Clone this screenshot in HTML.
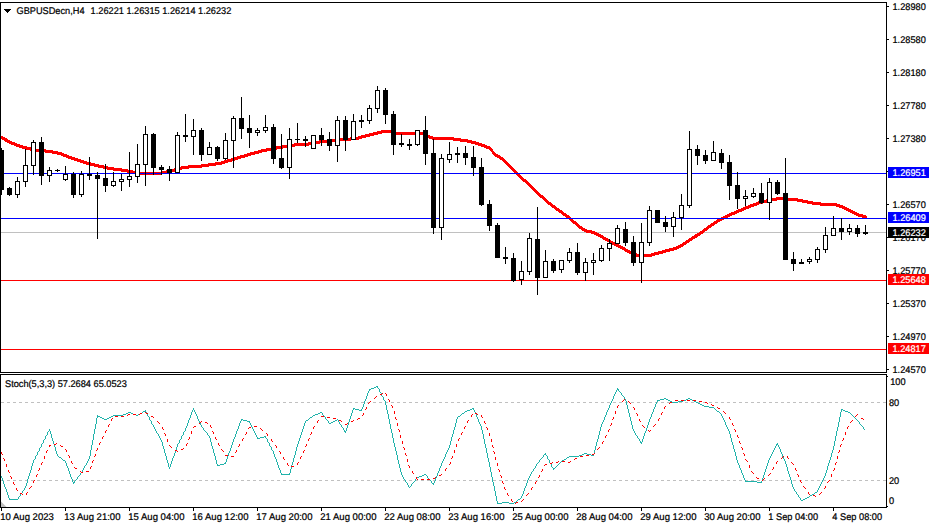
<!DOCTYPE html>
<html><head><meta charset="utf-8"><title>GBPUSDecn,H4</title>
<style>text{stroke:#000;stroke-width:.22px}text.w{fill:#fff;stroke:#fff}html,body{margin:0;padding:0;background:#fff;width:932px;height:526px;overflow:hidden}</style></head>
<body>
<svg width="932" height="526" viewBox="0 0 932 526" style="position:absolute;left:0;top:0;font-family:'Liberation Sans',sans-serif;font-size:9.7px;text-rendering:geometricPrecision">
<rect x="0" y="0" width="932" height="526" fill="#fff"/>
<rect x="1" y="232" width="885" height="1" fill="#c0c0c0"/>
<path d="M1 136v3h1v-3zM2 136v4h1v-4zM3 137v3h1v-3zM4 137v4h1v-4zM5 138v4h1v-4zM6 138v4h1v-4zM7 139v4h1v-4zM8 140v3h1v-3zM9 140v4h1v-4zM10 141v3h1v-3zM11 141v4h1v-4zM12 142v3h1v-3zM13 142v3h1v-3zM14 142v4h1v-4zM15 143v3h1v-3zM16 143v4h1v-4zM17 144v3h1v-3zM18 144v3h1v-3zM19 144v4h1v-4zM20 145v3h1v-3zM21 145v3h1v-3zM22 145v4h1v-4zM23 146v3h1v-3zM24 146v3h1v-3zM25 146v3h1v-3zM26 146v4h1v-4zM27 147v3h1v-3zM28 147v3h1v-3zM29 147v3h1v-3zM30 147v4h1v-4zM31 148v3h1v-3zM32 148v3h1v-3zM33 148v3h1v-3zM34 148v4h1v-4zM35 149v3h1v-3zM36 149v3h1v-3zM37 149v3h1v-3zM38 149v3h1v-3zM39 149v3h1v-3zM40 149v3h1v-3zM41 149v3h1v-3zM42 149v3h1v-3zM43 149v3h1v-3zM44 149v3h1v-3zM45 149v4h1v-4zM46 150v3h1v-3zM47 150v3h1v-3zM48 150v3h1v-3zM49 150v3h1v-3zM50 150v3h1v-3zM51 150v3h1v-3zM52 150v4h1v-4zM53 151v3h1v-3zM54 151v3h1v-3zM55 151v3h1v-3zM56 151v3h1v-3zM57 151v4h1v-4zM58 152v3h1v-3zM59 152v3h1v-3zM60 152v3h1v-3zM61 152v4h1v-4zM62 153v3h1v-3zM63 153v4h1v-4zM64 154v3h1v-3zM65 154v3h1v-3zM66 154v4h1v-4zM67 155v3h1v-3zM68 155v4h1v-4zM69 156v3h1v-3zM70 156v3h1v-3zM71 156v4h1v-4zM72 157v3h1v-3zM73 157v3h1v-3zM74 157v4h1v-4zM75 158v3h1v-3zM76 158v3h1v-3zM77 158v4h1v-4zM78 159v3h1v-3zM79 159v3h1v-3zM80 159v4h1v-4zM81 160v3h1v-3zM82 160v3h1v-3zM83 160v4h1v-4zM84 161v3h1v-3zM85 161v3h1v-3zM86 161v4h1v-4zM87 162v3h1v-3zM88 162v3h1v-3zM89 162v3h1v-3zM90 162v4h1v-4zM91 163v3h1v-3zM92 163v3h1v-3zM93 163v3h1v-3zM94 163v4h1v-4zM95 164v3h1v-3zM96 164v3h1v-3zM97 164v3h1v-3zM98 164v4h1v-4zM99 165v3h1v-3zM100 165v3h1v-3zM101 165v3h1v-3zM102 165v3h1v-3zM103 165v4h1v-4zM104 166v3h1v-3zM105 166v3h1v-3zM106 166v3h1v-3zM107 166v4h1v-4zM108 167v3h1v-3zM109 167v3h1v-3zM110 167v3h1v-3zM111 167v3h1v-3zM112 167v3h1v-3zM113 167v4h1v-4zM114 168v3h1v-3zM115 168v3h1v-3zM116 168v3h1v-3zM117 168v3h1v-3zM118 168v3h1v-3zM119 168v3h1v-3zM120 168v3h1v-3zM121 168v4h1v-4zM122 169v3h1v-3zM123 169v3h1v-3zM124 169v3h1v-3zM125 169v3h1v-3zM126 169v3h1v-3zM127 169v4h1v-4zM128 170v3h1v-3zM129 170v3h1v-3zM130 170v3h1v-3zM131 170v3h1v-3zM132 170v4h1v-4zM133 171v3h1v-3zM134 171v3h1v-3zM135 171v3h1v-3zM136 171v3h1v-3zM137 171v3h1v-3zM138 171v4h1v-4zM139 172v3h1v-3zM140 172v3h1v-3zM141 172v3h1v-3zM142 172v3h1v-3zM143 172v3h1v-3zM144 172v3h1v-3zM145 172v3h1v-3zM146 172v3h1v-3zM147 172v3h1v-3zM148 172v3h1v-3zM149 172v3h1v-3zM150 172v3h1v-3zM151 172v3h1v-3zM152 172v3h1v-3zM153 172v3h1v-3zM154 172v3h1v-3zM155 172v3h1v-3zM156 172v3h1v-3zM157 172v3h1v-3zM158 172v3h1v-3zM159 172v3h1v-3zM160 172v3h1v-3zM161 171v4h1v-4zM162 171v3h1v-3zM163 171v3h1v-3zM164 171v3h1v-3zM165 171v3h1v-3zM166 170v4h1v-4zM167 170v3h1v-3zM168 170v3h1v-3zM169 170v3h1v-3zM170 170v3h1v-3zM171 169v4h1v-4zM172 169v3h1v-3zM173 169v3h1v-3zM174 168v4h1v-4zM175 168v3h1v-3zM176 168v3h1v-3zM177 167v4h1v-4zM178 167v3h1v-3zM179 167v3h1v-3zM180 167v3h1v-3zM181 166v4h1v-4zM182 166v3h1v-3zM183 166v3h1v-3zM184 166v3h1v-3zM185 166v3h1v-3zM186 166v3h1v-3zM187 166v3h1v-3zM188 165v4h1v-4zM189 165v3h1v-3zM190 165v3h1v-3zM191 165v3h1v-3zM192 165v3h1v-3zM193 165v3h1v-3zM194 165v3h1v-3zM195 165v3h1v-3zM196 165v3h1v-3zM197 165v3h1v-3zM198 165v3h1v-3zM199 165v3h1v-3zM200 165v3h1v-3zM201 164v4h1v-4zM202 164v3h1v-3zM203 164v3h1v-3zM204 164v3h1v-3zM205 164v3h1v-3zM206 164v3h1v-3zM207 164v3h1v-3zM208 163v4h1v-4zM209 163v3h1v-3zM210 163v3h1v-3zM211 163v3h1v-3zM212 163v3h1v-3zM213 163v3h1v-3zM214 163v3h1v-3zM215 162v4h1v-4zM216 162v3h1v-3zM217 162v3h1v-3zM218 162v3h1v-3zM219 162v3h1v-3zM220 162v3h1v-3zM221 161v4h1v-4zM222 161v3h1v-3zM223 161v3h1v-3zM224 160v4h1v-4zM225 160v3h1v-3zM226 160v3h1v-3zM227 159v4h1v-4zM228 159v3h1v-3zM229 159v3h1v-3zM230 159v3h1v-3zM231 158v4h1v-4zM232 158v3h1v-3zM233 158v3h1v-3zM234 157v4h1v-4zM235 157v3h1v-3zM236 157v3h1v-3zM237 156v4h1v-4zM238 156v3h1v-3zM239 156v3h1v-3zM240 155v4h1v-4zM241 155v3h1v-3zM242 155v3h1v-3zM243 155v3h1v-3zM244 154v4h1v-4zM245 154v3h1v-3zM246 154v3h1v-3zM247 153v4h1v-4zM248 153v3h1v-3zM249 153v3h1v-3zM250 152v4h1v-4zM251 152v3h1v-3zM252 152v3h1v-3zM253 152v3h1v-3zM254 151v4h1v-4zM255 151v3h1v-3zM256 151v3h1v-3zM257 151v3h1v-3zM258 150v4h1v-4zM259 150v3h1v-3zM260 150v3h1v-3zM261 149v4h1v-4zM262 149v3h1v-3zM263 149v3h1v-3zM264 149v3h1v-3zM265 149v3h1v-3zM266 148v4h1v-4zM267 148v3h1v-3zM268 148v3h1v-3zM269 148v3h1v-3zM270 148v3h1v-3zM271 147v4h1v-4zM272 147v3h1v-3zM273 147v3h1v-3zM274 147v3h1v-3zM275 147v3h1v-3zM276 146v4h1v-4zM277 146v3h1v-3zM278 146v3h1v-3zM279 146v3h1v-3zM280 146v3h1v-3zM281 146v3h1v-3zM282 145v4h1v-4zM283 145v3h1v-3zM284 145v3h1v-3zM285 145v3h1v-3zM286 145v3h1v-3zM287 145v3h1v-3zM288 144v4h1v-4zM289 144v3h1v-3zM290 144v3h1v-3zM291 144v3h1v-3zM292 144v3h1v-3zM293 144v3h1v-3zM294 143v4h1v-4zM295 143v3h1v-3zM296 143v3h1v-3zM297 143v3h1v-3zM298 143v3h1v-3zM299 143v3h1v-3zM300 143v3h1v-3zM301 143v3h1v-3zM302 143v3h1v-3zM303 143v3h1v-3zM304 143v3h1v-3zM305 143v3h1v-3zM306 143v3h1v-3zM307 143v3h1v-3zM308 142v4h1v-4zM309 142v3h1v-3zM310 142v3h1v-3zM311 142v3h1v-3zM312 142v3h1v-3zM313 142v3h1v-3zM314 142v3h1v-3zM315 141v4h1v-4zM316 141v3h1v-3zM317 141v3h1v-3zM318 141v3h1v-3zM319 140v4h1v-4zM320 140v3h1v-3zM321 140v3h1v-3zM322 140v3h1v-3zM323 140v3h1v-3zM324 140v3h1v-3zM325 140v3h1v-3zM326 140v3h1v-3zM327 139v4h1v-4zM328 139v3h1v-3zM329 139v3h1v-3zM330 139v3h1v-3zM331 139v3h1v-3zM332 139v3h1v-3zM333 139v3h1v-3zM334 139v3h1v-3zM335 139v3h1v-3zM336 138v4h1v-4zM337 138v3h1v-3zM338 138v3h1v-3zM339 138v3h1v-3zM340 138v3h1v-3zM341 138v3h1v-3zM342 138v3h1v-3zM343 138v3h1v-3zM344 138v3h1v-3zM345 138v3h1v-3zM346 138v3h1v-3zM347 138v3h1v-3zM348 138v3h1v-3zM349 138v3h1v-3zM350 137v4h1v-4zM351 137v3h1v-3zM352 137v3h1v-3zM353 137v3h1v-3zM354 137v3h1v-3zM355 137v3h1v-3zM356 137v3h1v-3zM357 137v3h1v-3zM358 136v4h1v-4zM359 136v3h1v-3zM360 136v3h1v-3zM361 135v4h1v-4zM362 135v3h1v-3zM363 135v3h1v-3zM364 135v3h1v-3zM365 134v4h1v-4zM366 134v3h1v-3zM367 134v3h1v-3zM368 134v3h1v-3zM369 133v4h1v-4zM370 133v3h1v-3zM371 133v3h1v-3zM372 133v3h1v-3zM373 132v4h1v-4zM374 132v3h1v-3zM375 132v3h1v-3zM376 132v3h1v-3zM377 131v4h1v-4zM378 131v3h1v-3zM379 131v3h1v-3zM380 131v3h1v-3zM381 130v4h1v-4zM382 130v3h1v-3zM383 130v3h1v-3zM384 130v3h1v-3zM385 130v3h1v-3zM386 130v3h1v-3zM387 130v3h1v-3zM388 130v3h1v-3zM389 130v3h1v-3zM390 130v3h1v-3zM391 130v4h1v-4zM392 131v3h1v-3zM393 131v3h1v-3zM394 131v3h1v-3zM395 131v4h1v-4zM396 132v3h1v-3zM397 132v3h1v-3zM398 132v3h1v-3zM399 132v3h1v-3zM400 132v3h1v-3zM401 132v3h1v-3zM402 132v3h1v-3zM403 132v3h1v-3zM404 132v3h1v-3zM405 132v3h1v-3zM406 132v3h1v-3zM407 132v3h1v-3zM408 132v3h1v-3zM409 132v3h1v-3zM410 132v3h1v-3zM411 132v3h1v-3zM412 132v3h1v-3zM413 132v3h1v-3zM414 132v3h1v-3zM415 132v3h1v-3zM416 132v3h1v-3zM417 132v3h1v-3zM418 132v3h1v-3zM419 132v3h1v-3zM420 132v3h1v-3zM421 132v3h1v-3zM422 132v3h1v-3zM423 132v4h1v-4zM424 133v3h1v-3zM425 133v4h1v-4zM426 134v3h1v-3zM427 134v4h1v-4zM428 135v3h1v-3zM429 135v4h1v-4zM430 136v3h1v-3zM431 136v3h1v-3zM432 136v4h1v-4zM433 137v3h1v-3zM434 137v3h1v-3zM435 137v3h1v-3zM436 137v3h1v-3zM437 137v3h1v-3zM438 137v3h1v-3zM439 137v3h1v-3zM440 137v3h1v-3zM441 137v3h1v-3zM442 137v3h1v-3zM443 137v3h1v-3zM444 137v3h1v-3zM445 137v3h1v-3zM446 137v3h1v-3zM447 137v3h1v-3zM448 137v3h1v-3zM449 137v3h1v-3zM450 137v3h1v-3zM451 137v3h1v-3zM452 137v3h1v-3zM453 137v4h1v-4zM454 138v3h1v-3zM455 138v3h1v-3zM456 138v3h1v-3zM457 138v3h1v-3zM458 138v3h1v-3zM459 138v3h1v-3zM460 138v4h1v-4zM461 139v3h1v-3zM462 139v3h1v-3zM463 139v3h1v-3zM464 139v3h1v-3zM465 139v3h1v-3zM466 139v3h1v-3zM467 139v4h1v-4zM468 140v3h1v-3zM469 140v3h1v-3zM470 140v3h1v-3zM471 140v4h1v-4zM472 141v3h1v-3zM473 141v3h1v-3zM474 141v3h1v-3zM475 141v4h1v-4zM476 142v3h1v-3zM477 142v3h1v-3zM478 142v4h1v-4zM479 143v3h1v-3zM480 143v3h1v-3zM481 143v4h1v-4zM482 144v3h1v-3zM483 144v3h1v-3zM484 144v4h1v-4zM485 145v3h1v-3zM486 145v4h1v-4zM487 146v3h1v-3zM488 146v3h1v-3zM489 146v4h1v-4zM490 147v4h1v-4zM491 148v4h1v-4zM492 149v5h1v-5zM493 151v4h1v-4zM494 152v4h1v-4zM495 153v4h1v-4zM496 154v3h1v-3zM497 154v4h1v-4zM498 155v3h1v-3zM499 155v4h1v-4zM500 156v4h1v-4zM501 157v3h1v-3zM502 157v4h1v-4zM503 158v4h1v-4zM504 159v4h1v-4zM505 160v4h1v-4zM506 161v4h1v-4zM507 162v4h1v-4zM508 163v4h1v-4zM509 164v4h1v-4zM510 165v4h1v-4zM511 166v4h1v-4zM512 167v4h1v-4zM513 168v4h1v-4zM514 169v4h1v-4zM515 170v4h1v-4zM516 171v4h1v-4zM517 172v4h1v-4zM518 173v4h1v-4zM519 174v4h1v-4zM520 175v4h1v-4zM521 176v4h1v-4zM522 177v4h1v-4zM523 178v4h1v-4zM524 179v3h1v-3zM525 179v4h1v-4zM526 180v4h1v-4zM527 181v4h1v-4zM528 182v4h1v-4zM529 183v4h1v-4zM530 184v4h1v-4zM531 185v4h1v-4zM532 186v4h1v-4zM533 187v4h1v-4zM534 188v4h1v-4zM535 189v4h1v-4zM536 190v4h1v-4zM537 191v4h1v-4zM538 192v4h1v-4zM539 193v4h1v-4zM540 194v4h1v-4zM541 195v3h1v-3zM542 195v4h1v-4zM543 196v4h1v-4zM544 197v4h1v-4zM545 198v4h1v-4zM546 199v4h1v-4zM547 200v4h1v-4zM548 201v4h1v-4zM549 202v3h1v-3zM550 202v4h1v-4zM551 203v4h1v-4zM552 204v4h1v-4zM553 205v3h1v-3zM554 205v4h1v-4zM555 206v4h1v-4zM556 207v4h1v-4zM557 208v3h1v-3zM558 208v4h1v-4zM559 209v4h1v-4zM560 210v3h1v-3zM561 210v4h1v-4zM562 211v4h1v-4zM563 212v4h1v-4zM564 213v3h1v-3zM565 213v4h1v-4zM566 214v4h1v-4zM567 215v3h1v-3zM568 215v4h1v-4zM569 216v4h1v-4zM570 217v4h1v-4zM571 218v4h1v-4zM572 219v4h1v-4zM573 220v4h1v-4zM574 221v3h1v-3zM575 221v4h1v-4zM576 222v4h1v-4zM577 223v4h1v-4zM578 224v4h1v-4zM579 225v4h1v-4zM580 226v3h1v-3zM581 226v4h1v-4zM582 227v4h1v-4zM583 228v3h1v-3zM584 228v4h1v-4zM585 229v3h1v-3zM586 229v4h1v-4zM587 230v3h1v-3zM588 230v3h1v-3zM589 230v3h1v-3zM590 230v3h1v-3zM591 230v4h1v-4zM592 231v3h1v-3zM593 231v3h1v-3zM594 231v4h1v-4zM595 232v3h1v-3zM596 232v4h1v-4zM597 233v3h1v-3zM598 233v4h1v-4zM599 234v3h1v-3zM600 234v4h1v-4zM601 235v3h1v-3zM602 235v4h1v-4zM603 236v4h1v-4zM604 237v3h1v-3zM605 237v4h1v-4zM606 238v3h1v-3zM607 238v4h1v-4zM608 239v3h1v-3zM609 239v4h1v-4zM610 240v4h1v-4zM611 241v3h1v-3zM612 241v4h1v-4zM613 242v3h1v-3zM614 242v4h1v-4zM615 243v3h1v-3zM616 243v4h1v-4zM617 244v3h1v-3zM618 244v4h1v-4zM619 245v3h1v-3zM620 245v4h1v-4zM621 246v3h1v-3zM622 246v4h1v-4zM623 247v3h1v-3zM624 247v4h1v-4zM625 248v4h1v-4zM626 249v3h1v-3zM627 249v4h1v-4zM628 250v3h1v-3zM629 250v4h1v-4zM630 251v3h1v-3zM631 251v4h1v-4zM632 252v4h1v-4zM633 253v3h1v-3zM634 253v3h1v-3zM635 253v3h1v-3zM636 253v4h1v-4zM637 254v3h1v-3zM638 254v3h1v-3zM639 254v3h1v-3zM640 254v3h1v-3zM641 254v3h1v-3zM642 254v3h1v-3zM643 254v3h1v-3zM644 254v3h1v-3zM645 254v3h1v-3zM646 254v3h1v-3zM647 254v3h1v-3zM648 254v3h1v-3zM649 254v3h1v-3zM650 254v3h1v-3zM651 253v4h1v-4zM652 253v3h1v-3zM653 253v3h1v-3zM654 252v4h1v-4zM655 252v3h1v-3zM656 252v3h1v-3zM657 252v3h1v-3zM658 251v4h1v-4zM659 251v3h1v-3zM660 251v3h1v-3zM661 251v3h1v-3zM662 250v4h1v-4zM663 250v3h1v-3zM664 250v3h1v-3zM665 249v4h1v-4zM666 249v3h1v-3zM667 249v3h1v-3zM668 249v3h1v-3zM669 248v4h1v-4zM670 248v3h1v-3zM671 248v3h1v-3zM672 248v3h1v-3zM673 247v4h1v-4zM674 247v3h1v-3zM675 247v3h1v-3zM676 246v4h1v-4zM677 246v3h1v-3zM678 245v4h1v-4zM679 245v3h1v-3zM680 244v4h1v-4zM681 244v3h1v-3zM682 243v4h1v-4zM683 242v4h1v-4zM684 242v3h1v-3zM685 241v4h1v-4zM686 240v4h1v-4zM687 240v3h1v-3zM688 239v4h1v-4zM689 238v4h1v-4zM690 238v3h1v-3zM691 237v4h1v-4zM692 236v4h1v-4zM693 236v3h1v-3zM694 235v4h1v-4zM695 234v4h1v-4zM696 234v4h1v-4zM697 233v4h1v-4zM698 233v3h1v-3zM699 232v4h1v-4zM700 231v4h1v-4zM701 231v3h1v-3zM702 230v4h1v-4zM703 229v4h1v-4zM704 228v4h1v-4zM705 228v3h1v-3zM706 227v4h1v-4zM707 226v4h1v-4zM708 225v4h1v-4zM709 225v3h1v-3zM710 224v4h1v-4zM711 223v4h1v-4zM712 223v3h1v-3zM713 222v4h1v-4zM714 221v4h1v-4zM715 221v3h1v-3zM716 220v4h1v-4zM717 219v4h1v-4zM718 219v3h1v-3zM719 218v4h1v-4zM720 218v3h1v-3zM721 217v4h1v-4zM722 217v3h1v-3zM723 216v4h1v-4zM724 216v3h1v-3zM725 215v4h1v-4zM726 215v3h1v-3zM727 214v4h1v-4zM728 214v3h1v-3zM729 213v4h1v-4zM730 213v3h1v-3zM731 212v4h1v-4zM732 212v3h1v-3zM733 212v3h1v-3zM734 211v4h1v-4zM735 211v3h1v-3zM736 210v4h1v-4zM737 210v3h1v-3zM738 209v4h1v-4zM739 209v3h1v-3zM740 209v3h1v-3zM741 208v4h1v-4zM742 208v3h1v-3zM743 207v4h1v-4zM744 207v3h1v-3zM745 206v4h1v-4zM746 206v3h1v-3zM747 206v3h1v-3zM748 205v4h1v-4zM749 205v3h1v-3zM750 204v4h1v-4zM751 204v3h1v-3zM752 204v3h1v-3zM753 203v4h1v-4zM754 203v3h1v-3zM755 203v3h1v-3zM756 202v4h1v-4zM757 202v3h1v-3zM758 201v4h1v-4zM759 201v3h1v-3zM760 201v3h1v-3zM761 201v3h1v-3zM762 200v4h1v-4zM763 200v3h1v-3zM764 200v3h1v-3zM765 200v3h1v-3zM766 199v4h1v-4zM767 199v3h1v-3zM768 199v3h1v-3zM769 199v3h1v-3zM770 198v4h1v-4zM771 198v3h1v-3zM772 198v3h1v-3zM773 198v3h1v-3zM774 198v3h1v-3zM775 198v3h1v-3zM776 197v4h1v-4zM777 197v3h1v-3zM778 197v3h1v-3zM779 197v3h1v-3zM780 197v3h1v-3zM781 197v3h1v-3zM782 197v3h1v-3zM783 197v3h1v-3zM784 197v3h1v-3zM785 197v3h1v-3zM786 197v3h1v-3zM787 197v4h1v-4zM788 198v3h1v-3zM789 198v3h1v-3zM790 198v3h1v-3zM791 198v3h1v-3zM792 198v3h1v-3zM793 198v3h1v-3zM794 198v3h1v-3zM795 198v3h1v-3zM796 198v3h1v-3zM797 198v4h1v-4zM798 199v3h1v-3zM799 199v3h1v-3zM800 199v3h1v-3zM801 199v3h1v-3zM802 199v4h1v-4zM803 200v3h1v-3zM804 200v3h1v-3zM805 200v3h1v-3zM806 200v3h1v-3zM807 200v4h1v-4zM808 201v3h1v-3zM809 201v3h1v-3zM810 201v3h1v-3zM811 201v3h1v-3zM812 201v4h1v-4zM813 202v3h1v-3zM814 202v3h1v-3zM815 202v3h1v-3zM816 202v3h1v-3zM817 202v3h1v-3zM818 202v3h1v-3zM819 202v3h1v-3zM820 202v4h1v-4zM821 203v3h1v-3zM822 203v3h1v-3zM823 203v3h1v-3zM824 203v3h1v-3zM825 203v3h1v-3zM826 203v3h1v-3zM827 203v3h1v-3zM828 203v3h1v-3zM829 203v3h1v-3zM830 203v3h1v-3zM831 203v3h1v-3zM832 203v3h1v-3zM833 203v3h1v-3zM834 203v3h1v-3zM835 203v3h1v-3zM836 203v4h1v-4zM837 204v3h1v-3zM838 204v3h1v-3zM839 204v4h1v-4zM840 205v3h1v-3zM841 205v3h1v-3zM842 205v4h1v-4zM843 206v3h1v-3zM844 206v4h1v-4zM845 207v3h1v-3zM846 207v4h1v-4zM847 208v3h1v-3zM848 208v4h1v-4zM849 209v3h1v-3zM850 209v4h1v-4zM851 210v3h1v-3zM852 210v4h1v-4zM853 211v3h1v-3zM854 211v4h1v-4zM855 212v3h1v-3zM856 212v4h1v-4zM857 213v3h1v-3zM858 213v4h1v-4zM859 214v3h1v-3zM860 214v3h1v-3zM861 214v3h1v-3zM862 214v4h1v-4zM863 215v3h1v-3zM864 215v3h1v-3zM865 215v4h1v-4zM866 216v3h1v-3z" fill="#ff0000" shape-rendering="crispEdges"/>
<rect x="1" y="173" width="885" height="1" fill="#0000ff"/>
<rect x="1" y="218" width="885" height="1" fill="#0000ff"/>
<rect x="1" y="280" width="885" height="1" fill="#ff0000"/>
<rect x="1" y="349" width="885" height="1" fill="#ff0000"/>
<g shape-rendering="crispEdges">
<rect x="1" y="148" width="1" height="47" fill="#000"/>
<rect x="-1" y="150" width="5" height="40" fill="#000"/>
<rect x="9" y="187" width="1" height="9" fill="#000"/>
<rect x="7" y="188" width="5" height="7" fill="#000"/>
<rect x="17" y="177" width="1" height="21" fill="#000"/>
<rect x="15" y="181" width="5" height="14" fill="#000"/>
<rect x="16" y="182" width="3" height="12" fill="#fff"/>
<rect x="25" y="149" width="1" height="38" fill="#000"/>
<rect x="23" y="165" width="5" height="17" fill="#000"/>
<rect x="24" y="166" width="3" height="15" fill="#fff"/>
<rect x="33" y="140" width="1" height="35" fill="#000"/>
<rect x="31" y="142" width="5" height="24" fill="#000"/>
<rect x="32" y="143" width="3" height="22" fill="#fff"/>
<rect x="41" y="137" width="1" height="48" fill="#000"/>
<rect x="39" y="142" width="5" height="34" fill="#000"/>
<rect x="49" y="167" width="1" height="15" fill="#000"/>
<rect x="47" y="170" width="5" height="6" fill="#000"/>
<rect x="48" y="171" width="3" height="4" fill="#fff"/>
<rect x="57" y="169" width="1" height="3" fill="#000"/>
<rect x="55" y="170" width="5" height="1" fill="#000"/>
<rect x="65" y="166" width="1" height="15" fill="#000"/>
<rect x="63" y="174" width="5" height="6" fill="#000"/>
<rect x="64" y="175" width="3" height="4" fill="#fff"/>
<rect x="73" y="172" width="1" height="26" fill="#000"/>
<rect x="71" y="174" width="5" height="21" fill="#000"/>
<rect x="81" y="171" width="1" height="26" fill="#000"/>
<rect x="79" y="174" width="5" height="21" fill="#000"/>
<rect x="80" y="175" width="3" height="19" fill="#fff"/>
<rect x="89" y="157" width="1" height="23" fill="#000"/>
<rect x="87" y="174" width="5" height="2" fill="#000"/>
<rect x="97" y="172" width="1" height="67" fill="#000"/>
<rect x="95" y="175" width="5" height="4" fill="#000"/>
<rect x="105" y="164" width="1" height="28" fill="#000"/>
<rect x="103" y="178" width="5" height="8" fill="#000"/>
<rect x="113" y="172" width="1" height="15" fill="#000"/>
<rect x="111" y="181" width="5" height="5" fill="#000"/>
<rect x="112" y="182" width="3" height="3" fill="#fff"/>
<rect x="121" y="174" width="1" height="17" fill="#000"/>
<rect x="119" y="179" width="5" height="3" fill="#000"/>
<rect x="120" y="180" width="3" height="1" fill="#fff"/>
<rect x="129" y="152" width="1" height="35" fill="#000"/>
<rect x="127" y="176" width="5" height="4" fill="#000"/>
<rect x="128" y="177" width="3" height="2" fill="#fff"/>
<rect x="137" y="144" width="1" height="39" fill="#000"/>
<rect x="135" y="164" width="5" height="13" fill="#000"/>
<rect x="136" y="165" width="3" height="11" fill="#fff"/>
<rect x="145" y="126" width="1" height="60" fill="#000"/>
<rect x="143" y="134" width="5" height="31" fill="#000"/>
<rect x="144" y="135" width="3" height="29" fill="#fff"/>
<rect x="153" y="133" width="1" height="42" fill="#000"/>
<rect x="151" y="134" width="5" height="34" fill="#000"/>
<rect x="161" y="165" width="1" height="10" fill="#000"/>
<rect x="159" y="167" width="5" height="3" fill="#000"/>
<rect x="169" y="166" width="1" height="15" fill="#000"/>
<rect x="167" y="169" width="5" height="4" fill="#000"/>
<rect x="177" y="132" width="1" height="41" fill="#000"/>
<rect x="175" y="135" width="5" height="38" fill="#000"/>
<rect x="176" y="136" width="3" height="36" fill="#fff"/>
<rect x="185" y="114" width="1" height="28" fill="#000"/>
<rect x="183" y="135" width="5" height="2" fill="#000"/>
<rect x="193" y="119" width="1" height="36" fill="#000"/>
<rect x="191" y="130" width="5" height="7" fill="#000"/>
<rect x="192" y="131" width="3" height="5" fill="#fff"/>
<rect x="201" y="128" width="1" height="33" fill="#000"/>
<rect x="199" y="130" width="5" height="25" fill="#000"/>
<rect x="209" y="142" width="1" height="13" fill="#000"/>
<rect x="207" y="147" width="5" height="8" fill="#000"/>
<rect x="208" y="148" width="3" height="6" fill="#fff"/>
<rect x="217" y="146" width="1" height="15" fill="#000"/>
<rect x="215" y="147" width="5" height="12" fill="#000"/>
<rect x="225" y="133" width="1" height="27" fill="#000"/>
<rect x="223" y="140" width="5" height="19" fill="#000"/>
<rect x="224" y="141" width="3" height="17" fill="#fff"/>
<rect x="233" y="116" width="1" height="52" fill="#000"/>
<rect x="231" y="118" width="5" height="23" fill="#000"/>
<rect x="232" y="119" width="3" height="21" fill="#fff"/>
<rect x="241" y="97" width="1" height="42" fill="#000"/>
<rect x="239" y="118" width="5" height="11" fill="#000"/>
<rect x="249" y="115" width="1" height="33" fill="#000"/>
<rect x="247" y="128" width="5" height="5" fill="#000"/>
<rect x="257" y="128" width="1" height="8" fill="#000"/>
<rect x="255" y="130" width="5" height="3" fill="#000"/>
<rect x="256" y="131" width="3" height="1" fill="#fff"/>
<rect x="265" y="115" width="1" height="18" fill="#000"/>
<rect x="263" y="127" width="5" height="4" fill="#000"/>
<rect x="264" y="128" width="3" height="2" fill="#fff"/>
<rect x="273" y="124" width="1" height="40" fill="#000"/>
<rect x="271" y="127" width="5" height="32" fill="#000"/>
<rect x="281" y="134" width="1" height="35" fill="#000"/>
<rect x="279" y="158" width="5" height="10" fill="#000"/>
<rect x="289" y="128" width="1" height="51" fill="#000"/>
<rect x="287" y="139" width="5" height="29" fill="#000"/>
<rect x="288" y="140" width="3" height="27" fill="#fff"/>
<rect x="297" y="123" width="1" height="20" fill="#000"/>
<rect x="295" y="139" width="5" height="1" fill="#000"/>
<rect x="305" y="136" width="1" height="11" fill="#000"/>
<rect x="303" y="139" width="5" height="2" fill="#000"/>
<rect x="313" y="135" width="1" height="14" fill="#000"/>
<rect x="311" y="135" width="5" height="14" fill="#000"/>
<rect x="312" y="136" width="3" height="12" fill="#fff"/>
<rect x="321" y="128" width="1" height="18" fill="#000"/>
<rect x="319" y="135" width="5" height="5" fill="#000"/>
<rect x="329" y="132" width="1" height="19" fill="#000"/>
<rect x="327" y="139" width="5" height="7" fill="#000"/>
<rect x="337" y="116" width="1" height="46" fill="#000"/>
<rect x="335" y="120" width="5" height="26" fill="#000"/>
<rect x="336" y="121" width="3" height="24" fill="#fff"/>
<rect x="345" y="116" width="1" height="35" fill="#000"/>
<rect x="343" y="120" width="5" height="20" fill="#000"/>
<rect x="353" y="114" width="1" height="26" fill="#000"/>
<rect x="351" y="121" width="5" height="19" fill="#000"/>
<rect x="352" y="122" width="3" height="17" fill="#fff"/>
<rect x="361" y="115" width="1" height="13" fill="#000"/>
<rect x="359" y="120" width="5" height="2" fill="#000"/>
<rect x="369" y="105" width="1" height="19" fill="#000"/>
<rect x="367" y="108" width="5" height="13" fill="#000"/>
<rect x="368" y="109" width="3" height="11" fill="#fff"/>
<rect x="377" y="86" width="1" height="27" fill="#000"/>
<rect x="375" y="90" width="5" height="19" fill="#000"/>
<rect x="376" y="91" width="3" height="17" fill="#fff"/>
<rect x="385" y="88" width="1" height="36" fill="#000"/>
<rect x="383" y="90" width="5" height="25" fill="#000"/>
<rect x="393" y="111" width="1" height="44" fill="#000"/>
<rect x="391" y="114" width="5" height="31" fill="#000"/>
<rect x="401" y="134" width="1" height="13" fill="#000"/>
<rect x="399" y="143" width="5" height="2" fill="#000"/>
<rect x="409" y="139" width="1" height="11" fill="#000"/>
<rect x="407" y="144" width="5" height="2" fill="#000"/>
<rect x="417" y="130" width="1" height="16" fill="#000"/>
<rect x="415" y="130" width="5" height="15" fill="#000"/>
<rect x="416" y="131" width="3" height="13" fill="#fff"/>
<rect x="425" y="116" width="1" height="49" fill="#000"/>
<rect x="423" y="130" width="5" height="24" fill="#000"/>
<rect x="433" y="139" width="1" height="95" fill="#000"/>
<rect x="431" y="153" width="5" height="75" fill="#000"/>
<rect x="441" y="154" width="1" height="86" fill="#000"/>
<rect x="439" y="158" width="5" height="70" fill="#000"/>
<rect x="440" y="159" width="3" height="68" fill="#fff"/>
<rect x="449" y="142" width="1" height="21" fill="#000"/>
<rect x="447" y="154" width="5" height="6" fill="#000"/>
<rect x="448" y="155" width="3" height="4" fill="#fff"/>
<rect x="457" y="147" width="1" height="16" fill="#000"/>
<rect x="455" y="153" width="5" height="2" fill="#000"/>
<rect x="465" y="146" width="1" height="19" fill="#000"/>
<rect x="463" y="153" width="5" height="5" fill="#000"/>
<rect x="473" y="146" width="1" height="30" fill="#000"/>
<rect x="471" y="157" width="5" height="11" fill="#000"/>
<rect x="481" y="158" width="1" height="48" fill="#000"/>
<rect x="479" y="167" width="5" height="38" fill="#000"/>
<rect x="489" y="200" width="1" height="31" fill="#000"/>
<rect x="487" y="204" width="5" height="22" fill="#000"/>
<rect x="497" y="223" width="1" height="35" fill="#000"/>
<rect x="495" y="225" width="5" height="33" fill="#000"/>
<rect x="505" y="247" width="1" height="17" fill="#000"/>
<rect x="503" y="257" width="5" height="2" fill="#000"/>
<rect x="513" y="253" width="1" height="29" fill="#000"/>
<rect x="511" y="258" width="5" height="23" fill="#000"/>
<rect x="521" y="261" width="1" height="24" fill="#000"/>
<rect x="519" y="271" width="5" height="9" fill="#000"/>
<rect x="520" y="272" width="3" height="7" fill="#fff"/>
<rect x="529" y="233" width="1" height="42" fill="#000"/>
<rect x="527" y="238" width="5" height="34" fill="#000"/>
<rect x="528" y="239" width="3" height="32" fill="#fff"/>
<rect x="537" y="207" width="1" height="88" fill="#000"/>
<rect x="535" y="239" width="5" height="39" fill="#000"/>
<rect x="545" y="250" width="1" height="28" fill="#000"/>
<rect x="543" y="261" width="5" height="17" fill="#000"/>
<rect x="544" y="262" width="3" height="15" fill="#fff"/>
<rect x="553" y="259" width="1" height="14" fill="#000"/>
<rect x="551" y="261" width="5" height="10" fill="#000"/>
<rect x="561" y="260" width="1" height="13" fill="#000"/>
<rect x="559" y="260" width="5" height="10" fill="#000"/>
<rect x="560" y="261" width="3" height="8" fill="#fff"/>
<rect x="569" y="248" width="1" height="15" fill="#000"/>
<rect x="567" y="252" width="5" height="9" fill="#000"/>
<rect x="568" y="253" width="3" height="7" fill="#fff"/>
<rect x="577" y="243" width="1" height="32" fill="#000"/>
<rect x="575" y="252" width="5" height="21" fill="#000"/>
<rect x="585" y="258" width="1" height="23" fill="#000"/>
<rect x="583" y="262" width="5" height="11" fill="#000"/>
<rect x="584" y="263" width="3" height="9" fill="#fff"/>
<rect x="593" y="253" width="1" height="22" fill="#000"/>
<rect x="591" y="260" width="5" height="3" fill="#000"/>
<rect x="592" y="261" width="3" height="1" fill="#fff"/>
<rect x="601" y="245" width="1" height="17" fill="#000"/>
<rect x="599" y="248" width="5" height="13" fill="#000"/>
<rect x="600" y="249" width="3" height="11" fill="#fff"/>
<rect x="609" y="239" width="1" height="22" fill="#000"/>
<rect x="607" y="243" width="5" height="6" fill="#000"/>
<rect x="608" y="244" width="3" height="4" fill="#fff"/>
<rect x="617" y="225" width="1" height="19" fill="#000"/>
<rect x="615" y="228" width="5" height="16" fill="#000"/>
<rect x="616" y="229" width="3" height="14" fill="#fff"/>
<rect x="625" y="222" width="1" height="24" fill="#000"/>
<rect x="623" y="229" width="5" height="14" fill="#000"/>
<rect x="633" y="236" width="1" height="30" fill="#000"/>
<rect x="631" y="242" width="5" height="21" fill="#000"/>
<rect x="641" y="223" width="1" height="60" fill="#000"/>
<rect x="639" y="242" width="5" height="21" fill="#000"/>
<rect x="640" y="243" width="3" height="19" fill="#fff"/>
<rect x="649" y="206" width="1" height="40" fill="#000"/>
<rect x="647" y="210" width="5" height="33" fill="#000"/>
<rect x="648" y="211" width="3" height="31" fill="#fff"/>
<rect x="657" y="210" width="1" height="13" fill="#000"/>
<rect x="655" y="210" width="5" height="13" fill="#000"/>
<rect x="665" y="216" width="1" height="16" fill="#000"/>
<rect x="663" y="222" width="5" height="5" fill="#000"/>
<rect x="673" y="212" width="1" height="25" fill="#000"/>
<rect x="671" y="217" width="5" height="10" fill="#000"/>
<rect x="672" y="218" width="3" height="8" fill="#fff"/>
<rect x="681" y="194" width="1" height="36" fill="#000"/>
<rect x="679" y="205" width="5" height="13" fill="#000"/>
<rect x="680" y="206" width="3" height="11" fill="#fff"/>
<rect x="689" y="131" width="1" height="77" fill="#000"/>
<rect x="687" y="149" width="5" height="57" fill="#000"/>
<rect x="688" y="150" width="3" height="55" fill="#fff"/>
<rect x="697" y="145" width="1" height="20" fill="#000"/>
<rect x="695" y="149" width="5" height="7" fill="#000"/>
<rect x="705" y="150" width="1" height="14" fill="#000"/>
<rect x="703" y="155" width="5" height="6" fill="#000"/>
<rect x="713" y="141" width="1" height="20" fill="#000"/>
<rect x="711" y="152" width="5" height="9" fill="#000"/>
<rect x="712" y="153" width="3" height="7" fill="#fff"/>
<rect x="721" y="149" width="1" height="20" fill="#000"/>
<rect x="719" y="153" width="5" height="10" fill="#000"/>
<rect x="729" y="155" width="1" height="45" fill="#000"/>
<rect x="727" y="162" width="5" height="24" fill="#000"/>
<rect x="737" y="172" width="1" height="37" fill="#000"/>
<rect x="735" y="185" width="5" height="14" fill="#000"/>
<rect x="745" y="190" width="1" height="16" fill="#000"/>
<rect x="743" y="196" width="5" height="3" fill="#000"/>
<rect x="744" y="197" width="3" height="1" fill="#fff"/>
<rect x="753" y="188" width="1" height="10" fill="#000"/>
<rect x="751" y="193" width="5" height="4" fill="#000"/>
<rect x="752" y="194" width="3" height="2" fill="#fff"/>
<rect x="761" y="183" width="1" height="21" fill="#000"/>
<rect x="759" y="193" width="5" height="10" fill="#000"/>
<rect x="769" y="178" width="1" height="42" fill="#000"/>
<rect x="767" y="182" width="5" height="21" fill="#000"/>
<rect x="768" y="183" width="3" height="19" fill="#fff"/>
<rect x="777" y="180" width="1" height="15" fill="#000"/>
<rect x="775" y="182" width="5" height="12" fill="#000"/>
<rect x="785" y="158" width="1" height="102" fill="#000"/>
<rect x="783" y="193" width="5" height="67" fill="#000"/>
<rect x="793" y="252" width="1" height="19" fill="#000"/>
<rect x="791" y="259" width="5" height="5" fill="#000"/>
<rect x="801" y="259" width="1" height="5" fill="#000"/>
<rect x="799" y="262" width="5" height="2" fill="#000"/>
<rect x="809" y="257" width="1" height="7" fill="#000"/>
<rect x="807" y="259" width="5" height="3" fill="#000"/>
<rect x="808" y="260" width="3" height="1" fill="#fff"/>
<rect x="817" y="247" width="1" height="16" fill="#000"/>
<rect x="815" y="249" width="5" height="11" fill="#000"/>
<rect x="816" y="250" width="3" height="9" fill="#fff"/>
<rect x="825" y="227" width="1" height="26" fill="#000"/>
<rect x="823" y="235" width="5" height="15" fill="#000"/>
<rect x="824" y="236" width="3" height="13" fill="#fff"/>
<rect x="833" y="216" width="1" height="20" fill="#000"/>
<rect x="831" y="228" width="5" height="8" fill="#000"/>
<rect x="832" y="229" width="3" height="6" fill="#fff"/>
<rect x="841" y="218" width="1" height="22" fill="#000"/>
<rect x="839" y="228" width="5" height="4" fill="#000"/>
<rect x="849" y="224" width="1" height="11" fill="#000"/>
<rect x="847" y="228" width="5" height="4" fill="#000"/>
<rect x="848" y="229" width="3" height="2" fill="#fff"/>
<rect x="857" y="225" width="1" height="12" fill="#000"/>
<rect x="855" y="228" width="5" height="6" fill="#000"/>
<rect x="865" y="225" width="1" height="10" fill="#000"/>
<rect x="863" y="232" width="5" height="2" fill="#000"/>
</g>
<path d="M1 402.5H886M1 480.5H886" stroke="#c0c0c0" stroke-width="1" stroke-dasharray="3 3" fill="none" shape-rendering="crispEdges"/>
<path d="M1 476h1v2h-1zM2 478h1v3h-1zM3 481h1v3h-1zM4 484h1v3h-1zM5 487h1v2h-1zM6 489h1v3h-1zM7 492h1v3h-1zM8 495h1v3h-1zM9 498h1v2h-1zM10 499h8v1h-8zM18 497h1v2h-1zM19 496h1v1h-1zM20 494h1v2h-1zM21 493h1v1h-1zM22 491h1v2h-1zM23 490h1v1h-1zM24 488h1v2h-1zM25 486h1v2h-1zM26 483h1v3h-1zM27 479h1v4h-1zM28 476h1v3h-1zM29 473h1v3h-1zM30 470h1v3h-1zM31 466h1v4h-1zM32 463h1v3h-1zM33 460h1v3h-1zM34 459h1v1h-1zM35 456h1v3h-1zM36 455h1v1h-1zM37 452h1v3h-1zM38 451h1v1h-1zM39 448h1v3h-1zM40 447h1v1h-1zM41 444h1v3h-1zM42 443h1v1h-1zM43 440h1v3h-1zM44 439h1v1h-1zM45 436h1v3h-1zM46 435h1v1h-1zM47 432h1v3h-1zM48 431h1v1h-1zM49 429h1v2h-1zM50 431h1v3h-1zM51 434h1v4h-1zM52 438h1v3h-1zM53 441h1v3h-1zM54 444h1v3h-1zM55 447h1v4h-1zM56 451h1v3h-1zM57 454h1v2h-1zM58 456h1v1h-1zM59 457h2v1h-2zM61 458h1v1h-1zM62 459h1v1h-1zM63 460h2v1h-2zM65 461h1v2h-1zM66 463h1v3h-1zM67 466h1v2h-1zM68 468h1v3h-1zM69 471h1v3h-1zM70 474h1v3h-1zM71 477h1v2h-1zM72 479h1v3h-1zM73 482h1v2h-1zM74 481h1v2h-1zM75 480h1v1h-1zM76 479h1v1h-1zM77 477h1v2h-1zM78 476h1v1h-1zM79 475h1v1h-1zM80 473h1v2h-1zM81 472h1v1h-1zM82 470h1v2h-1zM83 468h1v2h-1zM84 466h1v2h-1zM85 465h1v1h-1zM86 463h1v2h-1zM87 461h1v2h-1zM88 459h1v2h-1zM89 456h1v3h-1zM90 450h1v6h-1zM91 445h1v5h-1zM92 440h1v5h-1zM93 434h1v6h-1zM94 429h1v5h-1zM95 424h1v5h-1zM96 418h1v6h-1zM97 415h1v3h-1zM98 416h2v1h-2zM100 417h2v1h-2zM102 418h2v1h-2zM104 419h3v1h-3zM107 418h2v1h-2zM109 417h2v1h-2zM111 416h2v1h-2zM113 415h10v1h-10zM123 414h3v1h-3zM126 413h2v1h-2zM128 412h3v1h-3zM131 413h2v1h-2zM133 414h3v1h-3zM136 415h2v1h-2zM138 414h2v1h-2zM140 413h2v1h-2zM142 412h1v1h-1zM143 411h3v1h-3zM145 410h1v1h-1zM146 412h1v1h-1zM147 413h1v3h-1zM148 416h1v1h-1zM149 417h1v3h-1zM150 420h1v1h-1zM151 421h1v3h-1zM152 424h1v1h-1zM153 425h1v2h-1zM154 427h1v2h-1zM155 429h1v2h-1zM156 431h1v2h-1zM157 433h1v1h-1zM158 434h1v2h-1zM159 436h1v2h-1zM160 438h1v2h-1zM161 440h1v2h-1zM162 442h1v4h-1zM163 446h1v3h-1zM164 449h1v4h-1zM165 453h1v3h-1zM166 456h1v4h-1zM167 460h1v3h-1zM168 463h1v4h-1zM169 467h1v2h-1zM170 464h1v3h-1zM171 461h1v3h-1zM172 458h1v3h-1zM173 456h1v2h-1zM174 453h1v3h-1zM175 450h1v3h-1zM176 447h1v3h-1zM177 444h1v3h-1zM178 443h1v1h-1zM179 440h1v3h-1zM180 439h1v1h-1zM181 436h1v3h-1zM182 435h1v1h-1zM183 432h1v3h-1zM184 431h1v1h-1zM185 428h1v3h-1zM186 426h1v2h-1zM187 423h1v3h-1zM188 420h1v3h-1zM189 418h1v2h-1zM190 415h1v3h-1zM191 412h1v3h-1zM192 410h1v2h-1zM193 408h1v2h-1zM194 410h1v2h-1zM195 412h1v2h-1zM196 414h1v2h-1zM197 416h1v3h-1zM198 419h1v2h-1zM199 421h1v2h-1zM200 423h1v2h-1zM201 425h1v2h-1zM202 427h1v1h-1zM203 428h1v2h-1zM204 430h1v1h-1zM205 431h1v1h-1zM206 432h1v1h-1zM207 433h1v2h-1zM208 435h1v1h-1zM209 436h1v2h-1zM210 438h1v4h-1zM211 442h1v4h-1zM212 446h1v3h-1zM213 449h1v4h-1zM214 453h1v3h-1zM215 456h1v4h-1zM216 460h1v4h-1zM217 464h1v2h-1zM218 465h2v1h-2zM220 464h4v1h-4zM224 463h2v1h-2zM225 462h1v1h-1zM226 459h1v3h-1zM227 456h1v3h-1zM228 453h1v3h-1zM229 451h1v2h-1zM230 448h1v3h-1zM231 445h1v3h-1zM232 442h1v3h-1zM233 439h1v3h-1zM234 437h1v2h-1zM235 434h1v3h-1zM236 431h1v3h-1zM237 429h1v2h-1zM238 426h1v3h-1zM239 423h1v3h-1zM240 421h1v2h-1zM241 419h1v2h-1zM242 419h1v1h-1zM243 420h4v1h-4zM247 421h3v1h-3zM249 422h1v1h-1zM250 423h1v2h-1zM251 425h1v2h-1zM252 427h1v2h-1zM253 429h1v2h-1zM254 431h1v2h-1zM255 433h1v2h-1zM256 435h1v2h-1zM257 437h1v2h-1zM258 438h2v1h-2zM260 437h4v1h-4zM264 436h2v1h-2zM265 437h1v1h-1zM266 438h1v1h-1zM267 439h1v3h-1zM268 442h1v1h-1zM269 443h1v3h-1zM270 446h1v1h-1zM271 447h1v3h-1zM272 450h1v1h-1zM273 451h1v3h-1zM274 454h1v3h-1zM275 457h1v2h-1zM276 459h1v3h-1zM277 462h1v3h-1zM278 465h1v3h-1zM279 468h1v2h-1zM280 470h1v3h-1zM281 473h1v2h-1zM282 474h8v1h-8zM289 473h1v1h-1zM290 469h1v4h-1zM291 465h1v4h-1zM292 462h1v3h-1zM293 458h1v4h-1zM294 455h1v3h-1zM295 451h1v4h-1zM296 447h1v4h-1zM297 444h1v3h-1zM298 441h1v3h-1zM299 438h1v3h-1zM300 435h1v3h-1zM301 432h1v3h-1zM302 429h1v3h-1zM303 426h1v3h-1zM304 423h1v3h-1zM305 421h1v2h-1zM306 420h2v1h-2zM308 419h1v1h-1zM309 418h1v1h-1zM310 417h2v1h-2zM312 416h1v1h-1zM313 415h2v1h-2zM315 414h3v1h-3zM318 413h2v1h-2zM320 412h2v1h-2zM322 413h1v2h-1zM323 415h1v1h-1zM324 416h1v1h-1zM325 417h1v2h-1zM326 419h1v1h-1zM327 420h1v1h-1zM328 421h1v2h-1zM329 423h2v1h-2zM331 422h2v1h-2zM333 421h2v1h-2zM335 420h2v1h-2zM337 419h1v1h-1zM338 420h1v2h-1zM339 422h1v2h-1zM340 424h1v1h-1zM341 425h1v2h-1zM342 427h1v1h-1zM343 428h1v2h-1zM344 430h1v2h-1zM345 431h1v2h-1zM346 428h1v3h-1zM347 425h1v3h-1zM348 422h1v3h-1zM349 419h1v3h-1zM350 416h1v3h-1zM351 413h1v3h-1zM352 410h1v3h-1zM353 408h1v2h-1zM354 408h1v1h-1zM355 409h4v1h-4zM359 410h3v1h-3zM361 409h1v1h-1zM362 407h1v2h-1zM363 404h1v3h-1zM364 401h1v3h-1zM365 399h1v2h-1zM366 396h1v3h-1zM367 393h1v3h-1zM368 391h1v2h-1zM369 389h1v2h-1zM370 389h1v1h-1zM371 388h3v1h-3zM374 387h2v1h-2zM376 386h2v1h-2zM377 387h1v1h-1zM378 388h1v1h-1zM379 389h1v3h-1zM380 392h1v1h-1zM381 393h1v3h-1zM382 396h1v1h-1zM383 397h1v3h-1zM384 400h1v1h-1zM385 401h1v4h-1zM386 405h1v5h-1zM387 410h1v4h-1zM388 414h1v5h-1zM389 419h1v5h-1zM390 424h1v5h-1zM391 429h1v4h-1zM392 433h1v5h-1zM393 438h1v5h-1zM394 443h1v4h-1zM395 447h1v4h-1zM396 451h1v4h-1zM397 455h1v5h-1zM398 460h1v4h-1zM399 464h1v4h-1zM400 468h1v4h-1zM401 472h1v3h-1zM402 475h1v2h-1zM403 477h1v2h-1zM404 479h1v1h-1zM405 480h1v2h-1zM406 482h1v1h-1zM407 483h1v2h-1zM408 485h1v2h-1zM409 487h1v1h-1zM410 486h1v1h-1zM411 484h1v2h-1zM412 483h1v1h-1zM413 482h1v1h-1zM414 481h1v1h-1zM415 479h1v2h-1zM416 478h1v1h-1zM417 477h2v1h-2zM419 476h3v1h-3zM422 475h2v1h-2zM424 474h2v1h-2zM426 475h1v1h-1zM427 476h1v2h-1zM428 478h1v1h-1zM429 479h1v1h-1zM430 480h1v1h-1zM431 481h1v2h-1zM432 483h2v1h-2zM433 484h1v1h-1zM434 481h1v2h-1zM435 478h1v3h-1zM436 476h1v2h-1zM437 473h1v3h-1zM438 471h1v2h-1zM439 468h1v3h-1zM440 466h1v2h-1zM441 463h1v3h-1zM442 461h1v2h-1zM443 459h1v2h-1zM444 457h1v2h-1zM445 454h1v3h-1zM446 452h1v2h-1zM447 450h1v2h-1zM448 448h1v2h-1zM449 445h1v3h-1zM450 441h1v4h-1zM451 437h1v4h-1zM452 434h1v3h-1zM453 430h1v4h-1zM454 427h1v3h-1zM455 423h1v4h-1zM456 419h1v4h-1zM457 417h1v2h-1zM458 416h2v1h-2zM460 415h1v1h-1zM461 414h1v1h-1zM462 413h2v1h-2zM464 412h1v1h-1zM465 411h2v1h-2zM467 410h3v1h-3zM470 409h2v1h-2zM472 408h2v1h-2zM473 409h1v1h-1zM474 410h1v2h-1zM475 412h1v2h-1zM476 414h1v3h-1zM477 417h1v2h-1zM478 419h1v3h-1zM479 422h1v2h-1zM480 424h1v2h-1zM481 426h1v4h-1zM482 430h1v4h-1zM483 434h1v5h-1zM484 439h1v5h-1zM485 444h1v4h-1zM486 448h1v5h-1zM487 453h1v5h-1zM488 458h1v4h-1zM489 462h1v5h-1zM490 467h1v5h-1zM491 472h1v5h-1zM492 477h1v5h-1zM493 482h1v4h-1zM494 486h1v5h-1zM495 491h1v5h-1zM496 496h1v5h-1zM497 501h1v3h-1zM498 503h4v1h-4zM502 502h7v1h-7zM509 503h5v1h-5zM514 502h2v1h-2zM516 501h1v1h-1zM517 500h1v1h-1zM518 499h2v1h-2zM520 498h1v1h-1zM521 496h1v2h-1zM522 494h1v2h-1zM523 491h1v3h-1zM524 488h1v3h-1zM525 486h1v2h-1zM526 483h1v3h-1zM527 480h1v3h-1zM528 478h1v2h-1zM529 476h1v2h-1zM530 474h1v2h-1zM531 472h1v2h-1zM532 471h1v1h-1zM533 469h1v2h-1zM534 468h1v1h-1zM535 466h1v2h-1zM536 464h1v2h-1zM537 463h1v1h-1zM538 462h1v1h-1zM539 460h1v2h-1zM540 459h1v1h-1zM541 458h1v1h-1zM542 457h1v1h-1zM543 455h1v2h-1zM544 454h2v1h-2zM545 453h1v1h-1zM546 455h1v1h-1zM547 456h1v3h-1zM548 459h1v1h-1zM549 460h1v3h-1zM550 463h1v1h-1zM551 464h1v3h-1zM552 467h1v1h-1zM553 468h1v2h-1zM554 468h1v1h-1zM555 467h1v1h-1zM556 466h1v1h-1zM557 465h1v1h-1zM558 464h1v1h-1zM559 463h1v1h-1zM560 462h1v1h-1zM561 461h1v1h-1zM562 460h2v1h-2zM564 459h2v1h-2zM566 458h1v1h-1zM567 457h2v1h-2zM569 456h10v1h-10zM579 455h3v1h-3zM582 454h2v1h-2zM584 453h3v1h-3zM587 454h4v1h-4zM591 455h3v1h-3zM593 454h1v1h-1zM594 450h1v4h-1zM595 446h1v4h-1zM596 442h1v4h-1zM597 439h1v3h-1zM598 435h1v4h-1zM599 431h1v4h-1zM600 427h1v4h-1zM601 424h1v3h-1zM602 422h1v2h-1zM603 420h1v2h-1zM604 417h1v3h-1zM605 415h1v2h-1zM606 412h1v3h-1zM607 410h1v2h-1zM608 408h1v2h-1zM609 405h1v3h-1zM610 403h1v2h-1zM611 401h1v2h-1zM612 399h1v2h-1zM613 396h1v3h-1zM614 394h1v2h-1zM615 392h1v2h-1zM616 390h1v2h-1zM617 388h1v2h-1zM618 389h1v2h-1zM619 391h1v1h-1zM620 392h1v1h-1zM621 393h1v2h-1zM622 395h1v1h-1zM623 396h1v1h-1zM624 397h1v2h-1zM625 399h1v2h-1zM626 401h1v4h-1zM627 405h1v4h-1zM628 409h1v4h-1zM629 413h1v4h-1zM630 417h1v4h-1zM631 421h1v4h-1zM632 425h1v4h-1zM633 429h1v2h-1zM634 431h1v2h-1zM635 433h1v2h-1zM636 435h1v1h-1zM637 436h1v2h-1zM638 438h1v1h-1zM639 439h1v2h-1zM640 441h1v2h-1zM641 442h1v2h-1zM642 439h1v3h-1zM643 436h1v3h-1zM644 433h1v3h-1zM645 431h1v2h-1zM646 428h1v3h-1zM647 425h1v3h-1zM648 422h1v3h-1zM649 419h1v3h-1zM650 417h1v2h-1zM651 414h1v3h-1zM652 412h1v2h-1zM653 409h1v3h-1zM654 407h1v2h-1zM655 404h1v3h-1zM656 402h1v2h-1zM657 400h1v2h-1zM658 400h2v1h-2zM660 399h4v1h-4zM664 398h2v1h-2zM666 399h2v1h-2zM668 400h2v1h-2zM670 401h2v1h-2zM672 402h6v1h-6zM678 401h5v1h-5zM683 400h3v1h-3zM686 399h2v1h-2zM688 398h2v1h-2zM690 399h2v1h-2zM692 400h2v1h-2zM694 401h2v1h-2zM696 402h2v1h-2zM698 403h2v1h-2zM700 404h2v1h-2zM702 405h2v1h-2zM704 406h5v1h-5zM709 407h5v1h-5zM714 408h1v1h-1zM715 409h1v1h-1zM716 410h1v1h-1zM717 411h2v1h-2zM719 412h1v1h-1zM720 413h1v1h-1zM721 414h1v2h-1zM722 416h1v2h-1zM723 418h1v2h-1zM724 420h1v2h-1zM725 422h1v3h-1zM726 425h1v2h-1zM727 427h1v2h-1zM728 429h1v2h-1zM729 431h1v3h-1zM730 434h1v4h-1zM731 438h1v4h-1zM732 442h1v3h-1zM733 445h1v4h-1zM734 449h1v3h-1zM735 452h1v4h-1zM736 456h1v4h-1zM737 460h1v3h-1zM738 463h1v2h-1zM739 465h1v3h-1zM740 468h1v2h-1zM741 470h1v3h-1zM742 473h1v2h-1zM743 475h1v3h-1zM744 478h1v2h-1zM745 480h1v2h-1zM746 481h11v1h-11zM757 482h5v1h-5zM761 481h1v1h-1zM762 478h1v3h-1zM763 475h1v3h-1zM764 472h1v3h-1zM765 469h1v3h-1zM766 466h1v3h-1zM767 463h1v3h-1zM768 460h1v3h-1zM769 458h1v2h-1zM770 456h1v2h-1zM771 454h1v2h-1zM772 452h1v2h-1zM773 450h1v2h-1zM774 448h1v2h-1zM775 446h1v2h-1zM776 444h1v2h-1zM777 443h1v2h-1zM778 445h1v2h-1zM779 447h1v2h-1zM780 449h1v3h-1zM781 452h1v2h-1zM782 454h1v3h-1zM783 457h1v2h-1zM784 459h1v2h-1zM785 461h1v3h-1zM786 464h1v3h-1zM787 467h1v4h-1zM788 471h1v3h-1zM789 474h1v3h-1zM790 477h1v3h-1zM791 480h1v4h-1zM792 484h1v3h-1zM793 487h1v2h-1zM794 489h1v2h-1zM795 491h1v1h-1zM796 492h1v2h-1zM797 494h1v1h-1zM798 495h1v2h-1zM799 497h1v1h-1zM800 498h1v2h-1zM801 500h2v1h-2zM803 499h2v1h-2zM805 498h2v1h-2zM807 497h2v1h-2zM809 496h1v1h-1zM810 495h2v1h-2zM812 494h2v1h-2zM814 493h1v1h-1zM815 492h2v1h-2zM817 490h1v2h-1zM818 488h1v2h-1zM819 486h1v2h-1zM820 484h1v2h-1zM821 482h1v2h-1zM822 480h1v2h-1zM823 478h1v2h-1zM824 476h1v2h-1zM825 473h1v3h-1zM826 470h1v3h-1zM827 466h1v4h-1zM828 463h1v3h-1zM829 460h1v3h-1zM830 457h1v3h-1zM831 453h1v4h-1zM832 450h1v3h-1zM833 446h1v4h-1zM834 441h1v5h-1zM835 436h1v5h-1zM836 431h1v5h-1zM837 427h1v4h-1zM838 422h1v5h-1zM839 417h1v5h-1zM840 412h1v5h-1zM841 409h1v3h-1zM842 409h1v1h-1zM843 410h2v1h-2zM845 411h3v1h-3zM848 412h2v1h-2zM850 413h1v1h-1zM851 414h1v1h-1zM852 415h1v1h-1zM853 416h1v1h-1zM854 417h1v1h-1zM855 418h1v1h-1zM856 419h1v1h-1zM857 420h1v1h-1zM858 421h1v1h-1zM859 422h1v2h-1zM860 424h1v1h-1zM861 425h1v1h-1zM862 426h1v1h-1zM863 427h1v2h-1zM864 429h1v1h-1z" fill="#20b2aa" shape-rendering="crispEdges"/>
<path d="M1 452h1v2h-1zM2 454h1v1h-1zM3 458h1v1h-1zM4 459h1v2h-1zM6 464h1v3h-1zM8 470h1v2h-1zM9 472h1v1h-1zM10 476h1v1h-1zM11 477h1v2h-1zM13 482h1v2h-1zM14 484h1v1h-1zM16 488h1v2h-1zM17 490h1v1h-1zM20 493h2v1h-2zM22 494h1v1h-1zM26 493h1v2h-1zM27 492h1v1h-1zM29 488h1v1h-1zM30 487h1v1h-1zM31 486h1v1h-1zM33 481h1v2h-1zM34 480h1v1h-1zM36 475h1v2h-1zM37 474h1v1h-1zM38 470h1v1h-1zM39 468h1v2h-1zM41 463h1v2h-1zM42 462h1v1h-1zM44 456h1v3h-1zM46 451h1v2h-1zM47 450h1v1h-1zM49 445h1v2h-1zM50 445h1v1h-1zM54 444h2v1h-2zM56 443h1v1h-1zM60 445h1v1h-1zM61 446h2v1h-2zM65 449h1v1h-1zM66 450h1v2h-1zM68 455h1v1h-1zM69 456h1v2h-1zM71 461h1v2h-1zM72 463h1v1h-1zM74 467h1v1h-1zM75 468h2v1h-2zM80 471h1v1h-1zM81 472h2v1h-2zM86 471h3v1h-3zM90 467h1v2h-1zM91 466h1v1h-1zM92 461h1v2h-1zM93 460h1v1h-1zM94 456h1v1h-1zM95 454h1v2h-1zM96 450h1v1h-1zM97 448h1v2h-1zM99 443h1v2h-1zM100 442h1v1h-1zM102 437h1v2h-1zM103 436h1v1h-1zM105 431h1v2h-1zM106 430h1v1h-1zM108 425h1v2h-1zM109 424h1v1h-1zM111 419h1v2h-1zM112 418h1v1h-1zM115 416h3v1h-3zM121 416h3v1h-3zM127 415h1v1h-1zM128 414h2v1h-2zM133 414h3v1h-3zM139 414h1v1h-1zM140 413h2v1h-2zM145 412h1v1h-1zM146 413h2v1h-2zM151 416h2v1h-2zM153 417h1v1h-1zM157 421h1v1h-1zM158 422h1v1h-1zM159 423h1v1h-1zM162 427h1v2h-1zM163 429h1v1h-1zM164 433h1v1h-1zM165 434h1v2h-1zM167 439h1v3h-1zM169 445h1v1h-1zM170 446h1v1h-1zM171 447h1v1h-1zM175 450h2v1h-2zM177 451h1v1h-1zM181 449h2v1h-2zM183 448h1v1h-1zM186 444h1v2h-1zM187 443h1v1h-1zM188 439h1v1h-1zM189 437h1v2h-1zM191 431h1v3h-1zM193 427h1v1h-1zM194 426h2v1h-2zM199 423h1v1h-1zM200 422h1v1h-1zM201 421h1v1h-1zM205 422h2v1h-2zM207 423h1v1h-1zM210 425h1v2h-1zM211 427h1v1h-1zM212 431h1v1h-1zM213 432h1v2h-1zM215 437h1v2h-1zM216 439h1v1h-1zM218 443h1v2h-1zM219 445h1v1h-1zM221 449h1v1h-1zM222 450h1v1h-1zM223 451h1v1h-1zM225 455h3v1h-3zM231 456h3v1h-3zM235 452h1v1h-1zM236 450h1v2h-1zM238 446h1v1h-1zM239 444h1v2h-1zM242 439h1v2h-1zM243 438h1v1h-1zM245 434h1v1h-1zM246 432h1v2h-1zM248 428h1v1h-1zM249 427h2v1h-2zM254 426h3v1h-3zM260 428h1v1h-1zM261 429h1v1h-1zM262 430h1v1h-1zM266 433h1v1h-1zM267 434h1v2h-1zM271 439h1v2h-1zM272 441h1v1h-1zM275 445h1v1h-1zM276 446h1v2h-1zM279 451h1v1h-1zM280 452h1v2h-1zM283 457h1v2h-1zM284 459h1v1h-1zM287 463h1v2h-1zM288 465h1v1h-1zM291 466h3v1h-3zM297 463h1v2h-1zM298 462h1v1h-1zM300 457h1v2h-1zM301 456h1v1h-1zM303 451h1v2h-1zM304 450h1v1h-1zM305 446h1v1h-1zM306 444h1v2h-1zM308 439h1v2h-1zM309 438h1v1h-1zM310 434h1v1h-1zM311 432h1v2h-1zM313 427h1v2h-1zM314 426h1v1h-1zM317 421h1v2h-1zM318 420h1v1h-1zM321 416h3v1h-3zM327 417h3v1h-3zM333 418h3v1h-3zM339 420h2v1h-2zM341 421h1v1h-1zM345 424h2v1h-2zM347 423h1v1h-1zM351 421h2v1h-2zM353 420h1v1h-1zM357 419h1v1h-1zM358 418h2v1h-2zM362 415h1v1h-1zM363 413h1v2h-1zM365 409h1v1h-1zM366 407h1v2h-1zM368 403h1v1h-1zM369 402h1v1h-1zM370 401h1v1h-1zM374 398h1v1h-1zM375 397h1v1h-1zM376 396h1v1h-1zM380 394h2v1h-2zM382 393h1v1h-1zM385 393h1v1h-1zM386 394h1v2h-1zM388 399h1v1h-1zM389 400h1v2h-1zM391 405h1v1h-1zM392 406h1v2h-1zM394 411h1v3h-1zM395 417h1v2h-1zM396 419h1v1h-1zM397 423h1v3h-1zM398 429h1v1h-1zM399 430h1v2h-1zM400 435h1v3h-1zM402 441h1v3h-1zM403 447h1v1h-1zM404 448h1v2h-1zM405 453h1v2h-1zM406 455h1v1h-1zM407 459h1v3h-1zM408 465h1v1h-1zM409 466h1v2h-1zM412 471h1v2h-1zM413 473h1v1h-1zM416 477h1v2h-1zM417 479h1v1h-1zM421 479h3v1h-3zM427 479h3v1h-3zM433 478h2v1h-2zM435 477h1v1h-1zM439 475h2v1h-2zM441 474h1v1h-1zM445 469h1v2h-1zM446 468h1v1h-1zM449 464h1v1h-1zM450 462h1v2h-1zM451 458h1v1h-1zM452 456h1v2h-1zM454 450h1v3h-1zM456 444h1v3h-1zM458 439h1v2h-1zM459 438h1v1h-1zM461 433h1v2h-1zM462 432h1v1h-1zM464 427h1v2h-1zM465 426h1v1h-1zM467 421h1v2h-1zM468 420h1v1h-1zM471 415h1v2h-1zM472 414h1v1h-1zM475 413h2v1h-2zM477 414h1v1h-1zM481 415h1v2h-1zM482 417h1v1h-1zM484 421h1v2h-1zM485 423h1v1h-1zM486 427h1v1h-1zM487 428h1v2h-1zM489 433h1v3h-1zM491 439h1v3h-1zM492 445h1v2h-1zM493 447h1v1h-1zM493 451h1v1h-1zM494 452h1v2h-1zM495 457h1v3h-1zM497 463h1v3h-1zM498 469h1v1h-1zM499 470h1v2h-1zM500 475h1v1h-1zM501 476h1v2h-1zM502 481h1v2h-1zM503 483h1v1h-1zM504 487h1v2h-1zM505 489h1v1h-1zM507 493h1v2h-1zM508 495h1v1h-1zM511 499h1v2h-1zM512 501h1v1h-1zM515 503h1v1h-1zM516 502h2v1h-2zM521 501h1v1h-1zM522 500h1v1h-1zM523 499h1v1h-1zM526 495h1v1h-1zM527 494h1v1h-1zM528 493h1v1h-1zM531 488h1v2h-1zM532 487h1v1h-1zM535 482h1v2h-1zM536 481h1v1h-1zM538 477h1v1h-1zM539 475h1v2h-1zM541 471h1v1h-1zM542 469h1v2h-1zM544 465h1v1h-1zM545 464h2v1h-2zM550 463h2v1h-2zM552 462h1v1h-1zM556 462h2v1h-2zM558 461h1v1h-1zM562 461h3v1h-3zM568 462h2v1h-2zM570 461h1v1h-1zM574 459h1v1h-1zM575 458h2v1h-2zM580 456h3v1h-3zM586 455h3v1h-3zM592 454h2v1h-2zM594 453h1v1h-1zM597 449h1v1h-1zM598 448h1v1h-1zM599 447h1v1h-1zM602 442h1v2h-1zM603 441h1v1h-1zM605 436h1v2h-1zM606 435h1v1h-1zM608 430h1v2h-1zM609 429h1v1h-1zM610 425h1v1h-1zM611 423h1v2h-1zM612 419h1v1h-1zM613 417h1v2h-1zM615 411h1v3h-1zM617 406h1v2h-1zM618 405h1v1h-1zM622 401h1v1h-1zM623 400h1v1h-1zM624 399h1v1h-1zM628 401h1v1h-1zM629 402h1v1h-1zM630 403h1v1h-1zM633 407h1v1h-1zM634 408h1v2h-1zM636 413h1v1h-1zM637 414h1v2h-1zM639 419h1v2h-1zM640 421h1v1h-1zM642 425h1v1h-1zM643 426h1v1h-1zM644 427h1v1h-1zM648 430h1v1h-1zM649 431h1v1h-1zM650 430h1v1h-1zM653 426h1v1h-1zM654 425h1v1h-1zM655 424h1v1h-1zM658 419h1v2h-1zM659 418h1v1h-1zM661 413h1v2h-1zM662 412h1v1h-1zM664 407h1v2h-1zM665 406h1v1h-1zM669 403h1v1h-1zM670 402h2v1h-2zM675 400h3v1h-3zM681 400h3v1h-3zM687 400h3v1h-3zM693 400h3v1h-3zM699 401h3v1h-3zM705 402h2v1h-2zM707 403h1v1h-1zM711 404h1v1h-1zM712 405h2v1h-2zM717 407h1v1h-1zM718 408h2v1h-2zM723 411h1v1h-1zM724 412h1v1h-1zM725 413h1v1h-1zM729 417h1v2h-1zM730 419h1v1h-1zM732 423h1v2h-1zM733 425h1v1h-1zM734 429h1v1h-1zM735 430h1v2h-1zM737 435h1v2h-1zM738 437h1v1h-1zM739 441h1v2h-1zM740 443h1v1h-1zM741 447h1v1h-1zM742 448h1v2h-1zM743 453h1v1h-1zM744 454h1v2h-1zM745 459h1v1h-1zM746 460h1v1h-1zM747 461h1v1h-1zM749 465h1v3h-1zM751 471h1v1h-1zM752 472h1v1h-1zM753 473h1v1h-1zM756 477h1v1h-1zM757 478h2v1h-2zM762 480h1v1h-1zM763 479h1v1h-1zM764 478h1v1h-1zM768 475h1v1h-1zM769 474h1v1h-1zM770 473h1v1h-1zM772 469h1v1h-1zM773 467h1v2h-1zM776 462h1v2h-1zM777 461h1v1h-1zM781 458h1v1h-1zM782 457h1v1h-1zM783 456h1v1h-1zM787 456h1v2h-1zM788 458h1v1h-1zM791 462h1v1h-1zM792 463h1v1h-1zM793 464h1v1h-1zM795 468h1v2h-1zM796 470h1v1h-1zM797 474h1v1h-1zM798 475h1v2h-1zM800 480h1v2h-1zM801 482h1v1h-1zM803 486h1v1h-1zM804 487h1v1h-1zM805 488h1v1h-1zM808 492h1v2h-1zM809 494h1v1h-1zM813 495h2v1h-2zM815 496h1v1h-1zM819 494h1v1h-1zM820 493h1v1h-1zM821 492h1v1h-1zM824 488h1v1h-1zM825 486h1v2h-1zM827 482h1v1h-1zM828 481h1v1h-1zM829 480h1v1h-1zM831 474h1v3h-1zM833 470h1v1h-1zM834 468h1v2h-1zM835 463h1v2h-1zM836 462h1v1h-1zM837 456h1v3h-1zM838 452h1v1h-1zM839 450h1v2h-1zM840 445h1v2h-1zM841 444h1v1h-1zM842 440h1v1h-1zM843 438h1v2h-1zM845 432h1v3h-1zM847 427h1v2h-1zM848 426h1v1h-1zM850 422h1v1h-1zM851 421h1v1h-1zM852 420h1v1h-1zM855 416h1v1h-1zM856 415h1v1h-1zM857 414h1v1h-1zM861 418h2v1h-2zM863 419h1v1h-1z" fill="#ff0000" shape-rendering="crispEdges"/>
<g fill="#000" shape-rendering="crispEdges">
<rect x="0" y="2" width="887" height="1"/>
<rect x="0" y="2" width="1" height="371"/>
<rect x="0" y="372" width="887" height="1"/>
<rect x="0" y="374" width="887" height="1"/>
<rect x="0" y="374" width="1" height="134"/>
<rect x="0" y="507" width="887" height="1"/>
<rect x="886" y="2" width="1" height="371"/>
<rect x="886" y="374" width="1" height="134"/>
<rect x="887" y="376" width="1" height="1"/>
<rect x="887" y="506" width="1" height="1"/>
<rect x="887" y="6" width="2" height="1"/>
<rect x="887" y="39" width="2" height="1"/>
<rect x="887" y="72" width="2" height="1"/>
<rect x="887" y="105" width="2" height="1"/>
<rect x="887" y="138" width="2" height="1"/>
<rect x="887" y="171" width="2" height="1"/>
<rect x="887" y="204" width="2" height="1"/>
<rect x="887" y="237" width="2" height="1"/>
<rect x="887" y="270" width="2" height="1"/>
<rect x="887" y="303" width="2" height="1"/>
<rect x="887" y="336" width="2" height="1"/>
<rect x="887" y="369" width="2" height="1"/>
<rect x="1" y="508" width="1" height="3"/>
<rect x="65" y="508" width="1" height="3"/>
<rect x="129" y="508" width="1" height="3"/>
<rect x="193" y="508" width="1" height="3"/>
<rect x="257" y="508" width="1" height="3"/>
<rect x="321" y="508" width="1" height="3"/>
<rect x="385" y="508" width="1" height="3"/>
<rect x="449" y="508" width="1" height="3"/>
<rect x="513" y="508" width="1" height="3"/>
<rect x="577" y="508" width="1" height="3"/>
<rect x="641" y="508" width="1" height="3"/>
<rect x="705" y="508" width="1" height="3"/>
<rect x="769" y="508" width="1" height="3"/>
<rect x="833" y="508" width="1" height="3"/>
</g>
<path d="M1 501.5L6.5 507H1Z" fill="#c0c0c0"/>
<text transform="translate(892.5 10) scale(0.95 1)">1.28980</text>
<text transform="translate(892.5 43) scale(0.95 1)">1.28580</text>
<text transform="translate(892.5 76) scale(0.95 1)">1.28180</text>
<text transform="translate(892.5 109) scale(0.95 1)">1.27780</text>
<text transform="translate(892.5 142) scale(0.95 1)">1.27380</text>
<text transform="translate(892.5 175) scale(0.95 1)">1.26980</text>
<text transform="translate(892.5 208) scale(0.95 1)">1.26570</text>
<text transform="translate(892.5 241) scale(0.95 1)">1.26170</text>
<text transform="translate(892.5 274) scale(0.95 1)">1.25770</text>
<text transform="translate(892.5 307) scale(0.95 1)">1.25370</text>
<text transform="translate(892.5 340) scale(0.95 1)">1.24970</text>
<text transform="translate(892.5 373) scale(0.95 1)">1.24570</text>
<text transform="translate(890.2 384.8) scale(0.95 1)">100</text>
<text transform="translate(889 405.5) scale(0.95 1)">80</text>
<text transform="translate(889 483.5) scale(0.95 1)">20</text>
<text transform="translate(889 503.8) scale(0.95 1)">0</text>
<rect x="888" y="167" width="41" height="11" fill="#0000ff" shape-rendering="crispEdges"/>
<text transform="translate(892.5 176) scale(0.95 1)" class="w">1.26951</text>
<rect x="888" y="212" width="41" height="11" fill="#0000ff" shape-rendering="crispEdges"/>
<text transform="translate(892.5 221) scale(0.95 1)" class="w">1.26409</text>
<rect x="888" y="274" width="41" height="11" fill="#ff0000" shape-rendering="crispEdges"/>
<text transform="translate(892.5 283) scale(0.95 1)" class="w">1.25648</text>
<rect x="888" y="343" width="41" height="11" fill="#ff0000" shape-rendering="crispEdges"/>
<text transform="translate(892.5 352) scale(0.95 1)" class="w">1.24817</text>
<rect x="888" y="227" width="41" height="11" fill="#000000" shape-rendering="crispEdges"/>
<text transform="translate(892.5 236) scale(0.95 1)" class="w">1.26232</text>
<text transform="translate(0.30000000000000004 520) scale(0.983 1)">10 Aug 2023</text>
<text transform="translate(64.3 520) scale(0.983 1)">13 Aug 21:00</text>
<text transform="translate(128.3 520) scale(0.983 1)">15 Aug 04:00</text>
<text transform="translate(192.3 520) scale(0.983 1)">16 Aug 12:00</text>
<text transform="translate(256.3 520) scale(0.983 1)">17 Aug 20:00</text>
<text transform="translate(320.3 520) scale(0.983 1)">21 Aug 00:00</text>
<text transform="translate(384.3 520) scale(0.983 1)">22 Aug 08:00</text>
<text transform="translate(448.3 520) scale(0.983 1)">23 Aug 16:00</text>
<text transform="translate(512.3 520) scale(0.983 1)">25 Aug 00:00</text>
<text transform="translate(576.3 520) scale(0.983 1)">28 Aug 04:00</text>
<text transform="translate(640.3 520) scale(0.983 1)">29 Aug 12:00</text>
<text transform="translate(704.3 520) scale(0.983 1)">30 Aug 20:00</text>
<text transform="translate(768.3 520) scale(0.953 1)">1 Sep 04:00</text>
<text transform="translate(832.3 520) scale(0.953 1)">4 Sep 08:00</text>
<path d="M4 9h7v1h-1v1h-1v1h-1v1h-1v-1h-1v-1h-1v-1h-1z" fill="#000" shape-rendering="crispEdges"/>
<text transform="translate(16.5 14.2) scale(0.95 1)">GBPUSDecn,H4</text>
<text transform="translate(90.6 14.2) scale(0.95 1)">1.26221 1.26315 1.26214 1.26232</text>
<text transform="translate(5 386.6) scale(0.95 1)" xml:space="preserve">Stoch(5,3,3) 57.2684 65.0523</text>
</svg>
</body></html>
